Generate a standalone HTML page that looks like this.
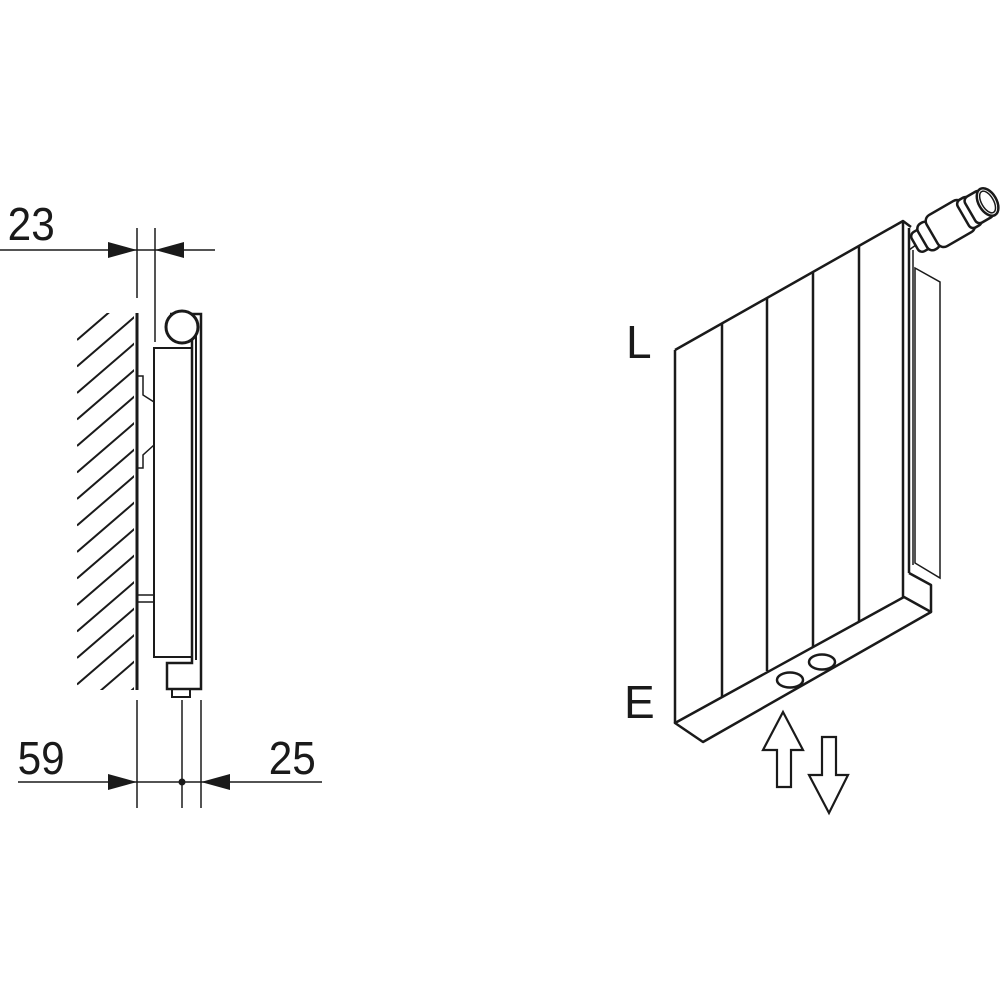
<!DOCTYPE html>
<html><head><meta charset="utf-8"><style>
html,body{margin:0;padding:0;background:#fff;}
svg{display:block;}
text{font-family:"Liberation Sans",sans-serif;fill:#1a1a1a;}
</style></head><body>
<svg width="1000" height="1000" viewBox="0 0 1000 1000" xmlns="http://www.w3.org/2000/svg">
<defs>
<clipPath id="hc"><rect x="77" y="313" width="57" height="377"/></clipPath>
</defs>
<g stroke="#1a1a1a" fill="none" stroke-linecap="butt">
<g clip-path="url(#hc)" stroke-width="2">
<line x1="77" y1="340" x2="135" y2="290"/>
<line x1="77" y1="366.5" x2="135" y2="316.5"/>
<line x1="77" y1="393" x2="135" y2="343"/>
<line x1="77" y1="419.5" x2="135" y2="369.5"/>
<line x1="77" y1="446" x2="135" y2="396"/>
<line x1="77" y1="472.5" x2="135" y2="422.5"/>
<line x1="77" y1="499" x2="135" y2="449"/>
<line x1="77" y1="525.5" x2="135" y2="475.5"/>
<line x1="77" y1="552" x2="135" y2="502"/>
<line x1="77" y1="578.5" x2="135" y2="528.5"/>
<line x1="77" y1="605" x2="135" y2="555"/>
<line x1="77" y1="631.5" x2="135" y2="581.5"/>
<line x1="77" y1="658" x2="135" y2="608"/>
<line x1="77" y1="684.5" x2="135" y2="634.5"/>
<line x1="77" y1="711" x2="135" y2="661"/>
<line x1="77" y1="737.5" x2="135" y2="687.5"/>
</g>
<line x1="137" y1="313" x2="137" y2="690" stroke-width="3"/>
<line x1="137" y1="228" x2="137" y2="298" stroke-width="1.5"/>
<line x1="155" y1="228" x2="155" y2="342" stroke-width="1.5"/>
<line x1="0" y1="250" x2="215" y2="250" stroke-width="1.5"/>
<path d="M137 376 H143 V395 L154 402" stroke-width="1.5"/>
<path d="M154 445 L143 455 V468 H137" stroke-width="1.5"/>
<line x1="137" y1="595" x2="154" y2="595" stroke-width="1.5"/>
<line x1="137" y1="602" x2="154" y2="602" stroke-width="1.5"/>
<rect x="154" y="348" width="38" height="309" stroke-width="2"/>
<path d="M170 314 H201 V689 H167 V663 H192 V320" stroke-width="2.5"/>
<line x1="196" y1="318" x2="196" y2="660" stroke-width="2"/>
<circle cx="182" cy="327" r="16" stroke-width="3" fill="#fff"/>
<rect x="172" y="689" width="18" height="8" stroke-width="2"/>
<line x1="137" y1="700" x2="137" y2="808" stroke-width="1.5"/>
<line x1="182" y1="700" x2="182" y2="808" stroke-width="1.5"/>
<line x1="201" y1="700" x2="201" y2="808" stroke-width="1.5"/>
<line x1="18" y1="782" x2="322" y2="782" stroke-width="1.5"/>

<g stroke-width="2.5" stroke-linejoin="round">
<path d="M675 350 L903 221 L911 227"/>
<line x1="675" y1="350" x2="675" y2="723"/>
<line x1="903" y1="221" x2="903" y2="597"/>
<line x1="909" y1="228" x2="909" y2="573"/>
<line x1="722" y1="323" x2="722" y2="697"/>
<line x1="767" y1="298" x2="767" y2="671"/>
<line x1="813" y1="272" x2="813" y2="647"/>
<line x1="859" y1="246" x2="859" y2="621"/>
<path d="M675 723 L904 597 L931 612 L703 742 Z"/>
<path d="M931 612 V585 L909 573"/>
<ellipse cx="790" cy="680" rx="13" ry="7.5"/>
<ellipse cx="822" cy="662" rx="13" ry="7.5"/>
</g>
<g stroke-width="1.5">
<line x1="913" y1="250" x2="913" y2="565"/>
<path d="M915 268 L940 282 V578 L915 563 Z"/>
<path d="M909 250 L920 242 L935 250"/>
</g>
<g stroke-width="2.5" fill="#fff" transform="translate(946,226) rotate(-30)">
<rect x="-36" y="-11" width="14" height="22" rx="5"/>
<rect x="-27" y="-15" width="14" height="30" rx="6"/>
<rect x="-16" y="-18" width="42" height="36" rx="7"/>
<rect x="20" y="-16" width="14" height="32" rx="5"/>
<rect x="28" y="-15" width="20" height="30" rx="5"/>
<ellipse cx="48" cy="0" rx="9" ry="15"/>
<ellipse cx="48" cy="0" rx="6" ry="12" stroke-width="1.5"/>
</g>
<path d="M783 712 L803 750 H791 V787 H777 V750 H763 Z" stroke-width="2.2" stroke-linejoin="miter"/>
<path d="M822 737 H836 V775 H848 L829 813 L809 775 H822 Z" stroke-width="2.2" stroke-linejoin="miter"/>
</g>
<g fill="#1a1a1a">
<polygon points="108,242 137,250 108,258"/>
<polygon points="184,242 155,250 184,258"/>
<polygon points="108,774 137,782 108,790"/>
<polygon points="230,774 201,782 230,790"/>
<circle cx="182" cy="782" r="3.5"/>
</g>
<text x="4" y="240" font-size="46" transform="translate(4,0) scale(0.92,1)">23</text>
<text x="17" y="774" font-size="46" transform="translate(2,0) scale(0.92,1)">59</text>
<text x="266" y="774" font-size="46" transform="translate(24,0) scale(0.92,1)">25</text>
<text x="626" y="358" font-size="46">L</text>
<text x="624" y="718" font-size="46">E</text>
</svg>
</body></html>
